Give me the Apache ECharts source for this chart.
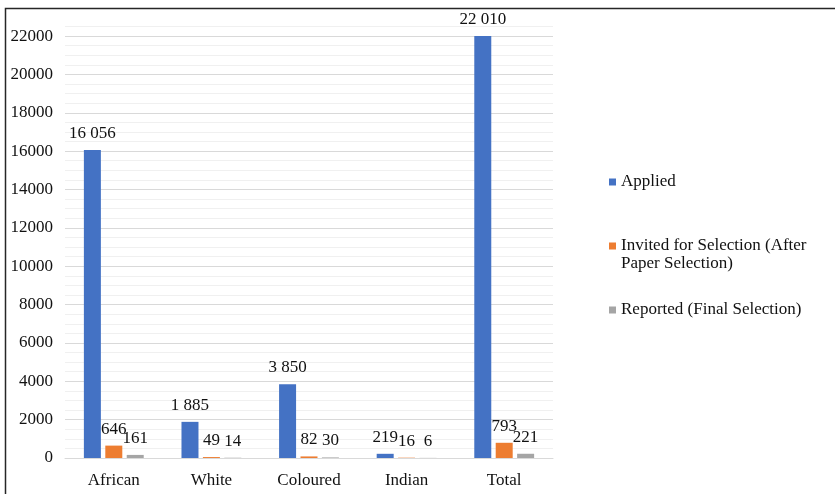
<!DOCTYPE html>
<html>
<head>
<meta charset="utf-8">
<script src="https://cdn.jsdelivr.net/npm/echarts@6/dist/echarts.min.js"></script>
<style>html,body{margin:0;padding:0;background:#fff;}#c{width:835px;height:494px;}</style>
</head>
<body>
<div id="c"></div>
<script>
const categories = ['African', 'White', 'Coloured', 'Indian', 'Total'];
const applied = [16056, 1885, 3850, 219, 22010];
const invited = [646, 49, 82, 16, 793];
const reported = [161, 14, 30, 6, 221];
const yTickLabels = [0, 2000, 4000, 6000, 8000, 10000, 12000, 14000, 16000, 18000, 20000, 22000];
const seriesNames = ['Applied', 'Invited for Selection (After Paper Selection)', 'Reported (Final Selection)'];

const FONT = '"Liberation Serif", "Times New Roman", serif';
function fmt(v) { return String(v).replace(/\B(?=(\d{3})+(?!\d))/g, ' '); }

const chart = echarts.init(document.getElementById('c'));
const labelCfg = {
  show: true, position: 'top', distance: 8,
  fontFamily: FONT, fontSize: 17, color: '#111',
  formatter: p => fmt(p.value)
};
function bar(name, data, color) {
  return {
    name: name, type: 'bar', data: data, barWidth: 17, barGap: '26%',
    itemStyle: { color: color }, label: labelCfg
  };
}
const legendText = { fontFamily: FONT, fontSize: 17, color: '#111', lineHeight: 18 };
chart.setOption({
  animation: false,
  graphic: [{
    type: 'rect', shape: { x: 5.5, y: 8.5, width: 900, height: 600 },
    style: { fill: 'none', stroke: '#262626', lineWidth: 1.5 }, silent: true
  }],
  grid: { left: 65, right: 282, top: 26.5, bottom: 36, containLabel: false },
  xAxis: {
    type: 'category', data: categories,
    axisLine: { lineStyle: { color: '#d9d9d9', width: 1 } },
    axisTick: { show: false },
    axisLabel: { fontFamily: FONT, fontSize: 17, color: '#111', margin: 14 }
  },
  yAxis: {
    type: 'value', min: 0, max: 22500, interval: 500,
    axisLine: { show: false }, axisTick: { show: false },
    axisLabel: {
      fontFamily: FONT, fontSize: 17, color: '#111', margin: 12,
      formatter: v => yTickLabels.indexOf(v) >= 0 ? String(v) : ''
    },
    splitLine: { lineStyle: { color: ['#d9d9d9', '#f0f0f0', '#f0f0f0', '#f0f0f0'], width: 1 } }
  },
  legend: [
    { data: [seriesNames[0]], left: 609, top: 173, orient: 'vertical', padding: 0,
      itemWidth: 7, itemHeight: 7, itemGap: 5, icon: 'rect', textStyle: legendText },
    { data: [seriesNames[1]], left: 609, top: 237, orient: 'vertical', padding: 0,
      itemWidth: 7, itemHeight: 25, icon: 'path://M0,0L7,0L7,7L0,7Z M0,25L0.01,25', textStyle: legendText,
      formatter: n => 'Invited for Selection (After\nPaper Selection)' },
    { data: [seriesNames[2]], left: 609, top: 301, orient: 'vertical', padding: 0,
      itemWidth: 7, itemHeight: 7, icon: 'rect', textStyle: legendText }
  ],
  series: [
    bar(seriesNames[0], applied, '#4472C4'),
    bar(seriesNames[1], invited, '#ED7D31'),
    bar(seriesNames[2], reported, '#A5A5A5')
  ]
});
</script>
</body>
</html>
